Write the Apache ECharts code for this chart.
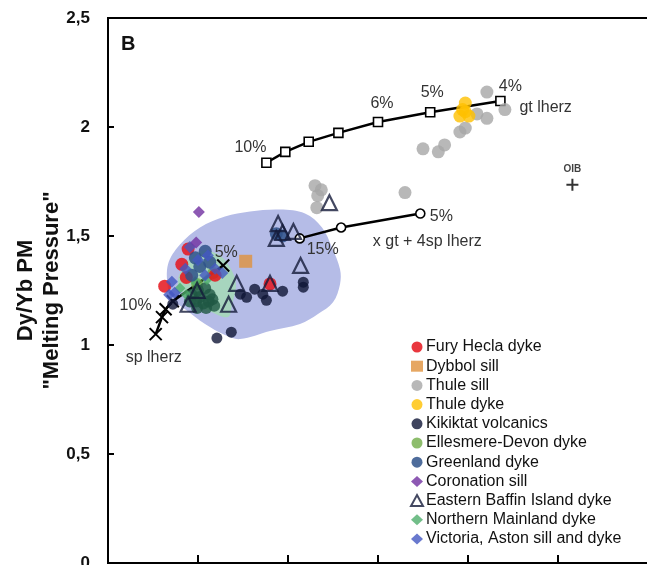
<!DOCTYPE html>
<html>
<head>
<meta charset="utf-8">
<script src="https://cdn.jsdelivr.net/npm/echarts@6/dist/echarts.min.js"></script>
<style>
    html, body { margin: 0; padding: 0; background: #fff; }
    #chart { width: 647px; height: 565px; }
</style>
</head>
<body>
<div id="chart"></div>
<script>
// y ticks
const yTicks = [0, 0.5, 1, 1.5, 2, 2.5];

// melting model curves
const gtLherz = [[1.76, 1.836], [1.97, 1.886], [2.23, 1.932], [2.56, 1.973], [3.0, 2.023], [3.58, 2.068], [4.36, 2.119]];
const gtLherzLabels = ["10%", "", "", "", "6%", "5%", "4%"];
const mixLherz = [[2.13, 1.489], [2.59, 1.539], [3.47, 1.603]];
const mixLherzLabels = ["15%", "", "5%"];
const spLherz = [[1.28, 1.365], [0.72, 1.201], [0.64, 1.164], [0.60, 1.128], [0.53, 1.050]];
const spLherzLabels = ["5%", "", "10%", "", ""];
const oib = [[5.16, 1.735]];

// shaded fields
const baffinField = [[0.667, 1.256], [0.667, 1.370], [0.80, 1.461], [1.022, 1.539], [1.30, 1.589], [1.578, 1.612],
    [1.911, 1.621], [2.189, 1.603], [2.378, 1.539], [2.489, 1.447], [2.578, 1.347], [2.578, 1.279],
    [2.50, 1.196], [2.333, 1.142], [2.133, 1.096], [1.80, 1.064], [1.467, 1.027], [1.30, 1.046],
    [1.078, 1.096], [0.856, 1.164], [0.711, 1.210]];
const greenField = [[0.778, 1.279], [0.856, 1.370], [1.022, 1.429], [1.222, 1.416], [1.356, 1.356],
    [1.422, 1.279], [1.378, 1.187], [1.333, 1.128], [1.133, 1.155], [0.933, 1.201]];

// samples
const furyHecla = [[0.63, 1.27], [0.89, 1.44], [0.82, 1.37], [0.87, 1.31], [1.19, 1.32], [1.80, 1.28]];
const dybbol = [[1.53, 1.384]];
const thuleSill = [[4.21, 2.16], [4.41, 2.08], [4.21, 2.04], [4.10, 2.06], [3.97, 1.995], [3.91, 1.977],
    [3.74, 1.918], [3.67, 1.886], [3.50, 1.900], [3.30, 1.699], [2.30, 1.731], [2.37, 1.712],
    [2.33, 1.685], [2.32, 1.630]];
const thuleDyke = [[3.97, 2.11], [3.94, 2.08], [3.91, 2.05], [4.01, 2.05], [3.97, 2.07]];
const kikiktat = [[0.72, 1.187], [1.21, 1.032], [1.37, 1.059], [1.47, 1.233], [1.54, 1.219], [1.63, 1.256],
    [1.72, 1.233], [1.76, 1.205], [1.94, 1.247], [2.17, 1.265], [2.17, 1.288]];
const ellesmere = [[0.99, 1.28], [1.17, 1.33]];
const ellesmereDark = [[0.93, 1.23], [1.00, 1.25], [1.08, 1.26], [1.13, 1.23], [0.98, 1.20], [1.06, 1.19],
    [1.12, 1.20], [1.02, 1.22], [1.16, 1.21], [0.91, 1.20], [0.99, 1.17], [1.09, 1.17], [1.18, 1.18]];
const greenland = [[0.97, 1.40], [1.08, 1.43], [1.02, 1.36], [1.13, 1.38], [0.93, 1.32], [1.87, 1.51], [1.94, 1.50]];
const coronation = [[1.01, 1.61], [0.98, 1.47]];
const baffin = [[1.89, 1.557], [1.94, 1.516], [2.06, 1.521], [1.87, 1.489], [2.14, 1.365], [1.80, 1.283],
    [2.46, 1.653], [1.43, 1.283], [1.34, 1.187], [0.99, 1.251], [0.89, 1.187]];
const northern = [[0.80, 1.26], [0.97, 1.29], [1.10, 1.30], [0.87, 1.23]];
const victoria = [[0.71, 1.29], [0.74, 1.24], [0.68, 1.23], [0.86, 1.35], [0.91, 1.45], [1.00, 1.39],
    [1.11, 1.41], [1.19, 1.35], [1.27, 1.33], [1.08, 1.32]];

const legendNames = ["Fury Hecla dyke", "Dybbol sill", "Thule sill", "Thule dyke", "Kikiktat volcanics",
    "Ellesmere-Devon dyke", "Greenland dyke", "Coronation sill", "Eastern Baffin Island dyke",
    "Northern Mainland dyke", "Victoria, Aston sill and dyke"];

const FONT = "Liberation Sans, Arial, sans-serif";
const X_PATH = "path://M0,0L10,10M10,0L0,10";
const PLUS_PATH = "path://M5,0L5,10M0,5L10,5";

// label offsets for the curve annotations (pixels)
const gtOffsets = [[-16, -15], null, null, null, [4, -18], [2, -20], [10, -14]];
const mixOffsets = [[23, 11], null, [21, 3]];
const spOffsets = [[3, -13], null, [-30, -4], null, null];

function labelled(points, labels, offsets) {
    return points.map(function (p, i) {
        if (!labels[i]) return p;
        return {
            value: p,
            label: {
                show: true, formatter: labels[i], position: "inside", offset: offsets[i],
                fontSize: 16, color: "#333", fontFamily: FONT
            }
        };
    });
}

function field(points, color) {
    return {
        type: "custom",
        silent: true,
        z: 1,
        data: points,
        renderItem: function (params, api) {
            if (params.dataIndex !== 0) return null;
            return {
                type: "polygon",
                shape: {points: points.map(function (p) { return api.coord(p); }), smooth: 0.35},
                style: {fill: color}
            };
        }
    };
}

function curve(points, labels, offsets, symbol, endText, endAlign, endOffset) {
    const isX = symbol === X_PATH;
    return {
        type: "line",
        z: 2,
        data: labelled(points, labels, offsets),
        symbol: symbol,
        symbolSize: isX ? 12 : 9,
        showAllSymbol: true,
        itemStyle: {color: isX ? "none" : "#fff", borderColor: "#000", borderWidth: isX ? 2 : 1.6},
        lineStyle: {color: "#000", width: 2.5},
        endLabel: {
            show: true, formatter: endText, align: endAlign, offset: endOffset,
            fontSize: 16, color: "#333", fontFamily: FONT
        },
        emphasis: {disabled: true}
    };
}

function samples(name, data, symbol, size, color, extra) {
    return Object.assign({
        name: name,
        type: "scatter",
        z: 3,
        data: data,
        symbol: symbol,
        symbolSize: size,
        itemStyle: {color: color}
    }, extra || {});
}

const option = {
    animation: false,
    title: {
        text: "B", left: 116, top: 29,
        textStyle: {fontSize: 20, fontWeight: "bold", color: "#111", fontFamily: FONT}
    },
    grid: {
        left: 108, top: 18, width: 540, height: 545, containLabel: false, outerBoundsMode: "none",
        show: true, borderColor: "#000", borderWidth: 2
    },
    legend: {
        data: legendNames,
        orient: "vertical",
        left: 405,
        top: 334,
        itemWidth: 12,
        itemHeight: 11,
        itemGap: 3.2,
        textStyle: {fontSize: 16, lineHeight: 16, color: "#111", fontFamily: FONT, padding: [0, 0, 0, -2]},
        selectedMode: false
    },
    xAxis: {
        type: "value", min: 0, max: 6, interval: 1,
        axisLine: {lineStyle: {color: "#000", width: 2}},
        axisTick: {inside: true, length: 8, lineStyle: {color: "#000", width: 2}},
        axisLabel: {show: false},
        splitLine: {show: false}
    },
    yAxis: {
        type: "value", min: yTicks[0], max: yTicks[yTicks.length - 1], interval: 0.5,
        name: "Dy/Yb PM\n\"Melting Pressure\"",
        nameLocation: "middle",
        nameGap: 43,
        nameMoveOverlap: false,
        nameTextStyle: {fontSize: 22, fontWeight: "bold", color: "#111", lineHeight: 26, fontFamily: FONT},
        axisLine: {lineStyle: {color: "#000", width: 2}},
        axisTick: {inside: true, length: 6, lineStyle: {color: "#000", width: 2}},
        axisLabel: {
            margin: 18, fontSize: 17, fontWeight: "bold", color: "#111", fontFamily: FONT,
            formatter: function (v) { return String(v).replace(".", ","); }
        },
        splitLine: {show: false}
    },
    series: [
        field(baffinField, "#b5bce7"),
        field(greenField, "#a7d5be"),
        curve(gtLherz, gtLherzLabels, gtOffsets, "rect", "gt lherz", "left", [11, 7]),
        curve(mixLherz, mixLherzLabels, mixOffsets, "circle", "x gt + 4sp lherz", "center", [-1, 28]),
        curve(spLherz, spLherzLabels, spOffsets, X_PATH, "sp lherz", "center", [-10, 23]),
        {
            type: "scatter", z: 3, data: oib, symbol: PLUS_PATH, symbolSize: 12,
            itemStyle: {color: "none", borderColor: "#000", borderWidth: 2},
            label: {show: true, formatter: "OIB", position: "top", distance: 2,
                fontSize: 10, fontWeight: "bold", color: "#111", fontFamily: FONT}
        },
        samples("Thule sill", thuleSill, "circle", 13, "#a6a6a6"),
        samples("Thule dyke", thuleDyke, "circle", 13, "#ffc000"),
        samples("Kikiktat volcanics", kikiktat, "circle", 11, "#0f1536"),
        samples("Ellesmere-Devon dyke", ellesmere.concat(ellesmereDark.map(function (p) {
            return {value: p, itemStyle: {color: "#1f5844"}};
        })), "circle", 12, "#70ad47"),
        samples("Northern Mainland dyke", northern, "diamond", 11, "#4fae6c"),
        samples("Fury Hecla dyke", furyHecla, "circle", 13, "#e5141c", {itemStyle: {color: "#e5141c", opacity: 0.85}}),
        samples("Greenland dyke", greenland, "circle", 13, "#2f528a", {itemStyle: {color: "#2f528a", opacity: 0.85}}),
        samples("Victoria, Aston sill and dyke", victoria, "diamond", 12, "#4357c2", {itemStyle: {color: "#4357c2", opacity: 0.8}}),
        samples("Coronation sill", coronation, "diamond", 12, "#7030a0"),
        samples("Dybbol sill", dybbol, "rect", 13, "#e0913c"),
        samples("Eastern Baffin Island dyke", baffin, "triangle", 15, "#141a3a",
            {itemStyle: {color: "rgba(0,0,0,0)", borderColor: "#141a3a", borderWidth: 2.2}})
    ]
};

const chart = echarts.init(document.getElementById("chart"));
chart.setOption(option);
</script>
</body>
</html>
